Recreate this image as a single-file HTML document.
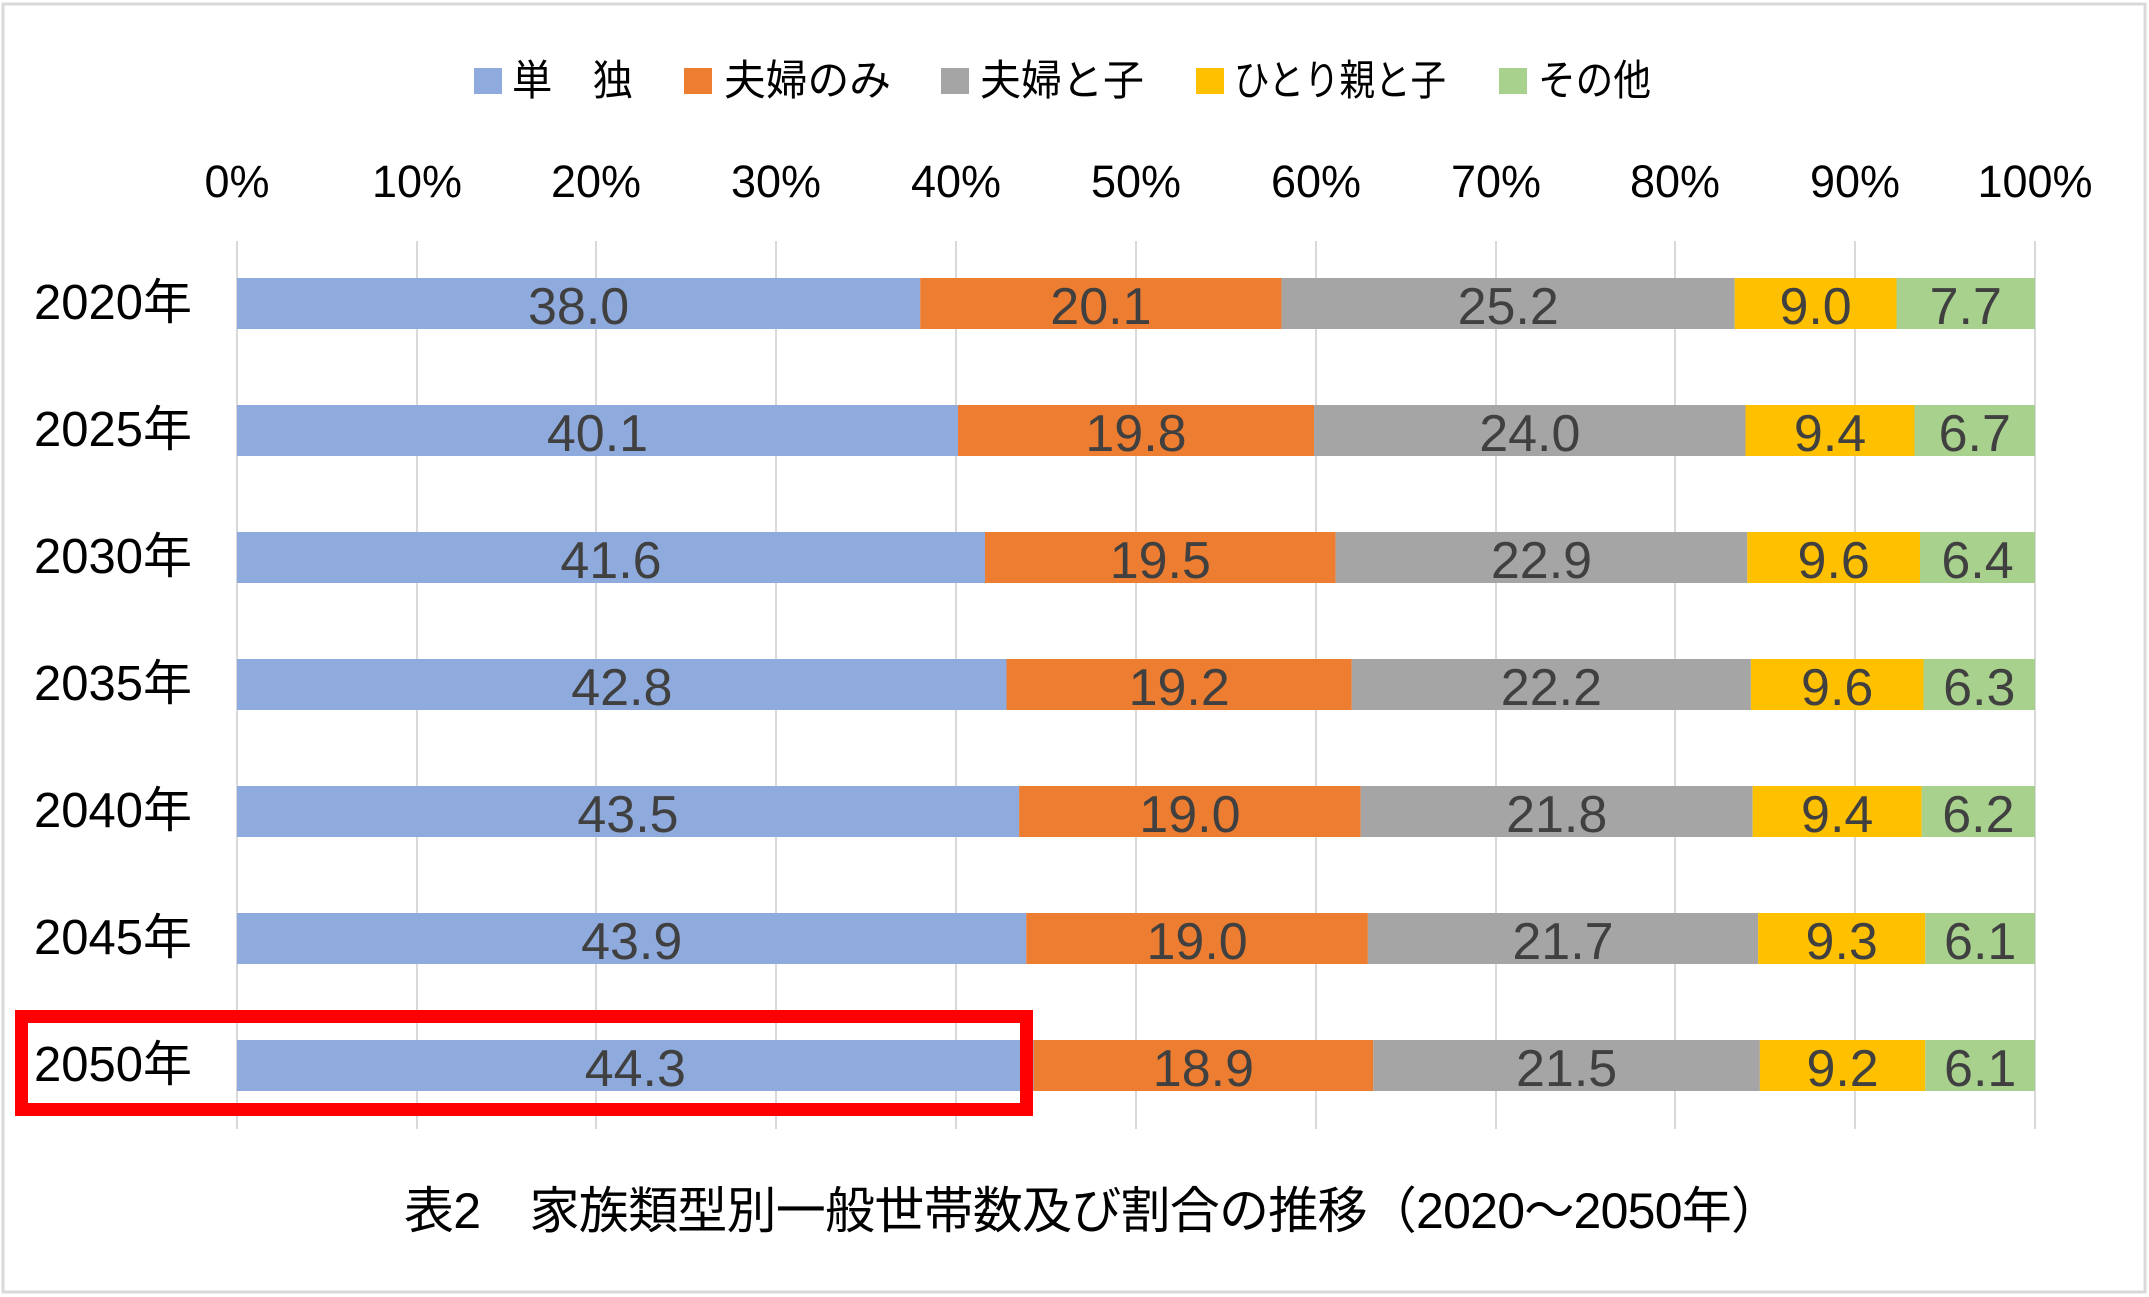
<!DOCTYPE html>
<html><head><meta charset="utf-8"><style>
html,body{margin:0;padding:0;background:#fff;}
svg{display:block;}
text{font-family:"Liberation Sans","Noto Sans CJK JP",sans-serif;}
</style></head><body>
<svg width="2149" height="1297" viewBox="0 0 2149 1297" xmlns="http://www.w3.org/2000/svg">
<rect x="0" y="0" width="2149" height="1297" fill="#fff"/>
<rect x="3" y="4" width="2142" height="1288" fill="none" stroke="#d9d9d9" stroke-width="3"/>
<g font-size="42" fill="#000">
<rect x="474" y="68" width="28" height="26" fill="#8FAADC"/><text x="512" y="95" textLength="121" lengthAdjust="spacingAndGlyphs">単　独</text>
<rect x="684" y="68" width="28" height="26" fill="#ED7D31"/><text x="724" y="95" textLength="167" lengthAdjust="spacingAndGlyphs">夫婦のみ</text>
<rect x="941" y="68" width="28" height="26" fill="#A5A5A5"/><text x="980" y="95" textLength="164" lengthAdjust="spacingAndGlyphs">夫婦と子</text>
<rect x="1196" y="68" width="28" height="26" fill="#FFC000"/><text x="1234" y="95" textLength="212" lengthAdjust="spacingAndGlyphs">ひとり親と子</text>
<rect x="1499" y="68" width="28" height="26" fill="#A9D18E"/><text x="1538" y="95" textLength="113" lengthAdjust="spacingAndGlyphs">その他</text>
</g>
<g font-size="45" fill="#000" text-anchor="middle">
<text x="237" y="197">0%</text><text x="417" y="197">10%</text><text x="596" y="197">20%</text><text x="776" y="197">30%</text><text x="956" y="197">40%</text><text x="1136" y="197">50%</text><text x="1316" y="197">60%</text><text x="1496" y="197">70%</text><text x="1675" y="197">80%</text><text x="1855" y="197">90%</text><text x="2035" y="197">100%</text>
</g>
<g stroke="#d9d9d9" stroke-width="2">
<line x1="237" y1="241" x2="237" y2="1129"/><line x1="417" y1="241" x2="417" y2="1129"/><line x1="596" y1="241" x2="596" y2="1129"/><line x1="776" y1="241" x2="776" y2="1129"/><line x1="956" y1="241" x2="956" y2="1129"/><line x1="1136" y1="241" x2="1136" y2="1129"/><line x1="1316" y1="241" x2="1316" y2="1129"/><line x1="1496" y1="241" x2="1496" y2="1129"/><line x1="1675" y1="241" x2="1675" y2="1129"/><line x1="1855" y1="241" x2="1855" y2="1129"/><line x1="2035" y1="241" x2="2035" y2="1129"/>
</g>
<g>
<rect x="237" y="278" width="683.2" height="51" fill="#8FAADC"/><rect x="920.2" y="278" width="361.4" height="51" fill="#ED7D31"/><rect x="1281.6" y="278" width="453.1" height="51" fill="#A5A5A5"/><rect x="1734.7" y="278" width="161.8" height="51" fill="#FFC000"/><rect x="1896.5" y="278" width="138.5" height="51" fill="#A9D18E"/>
<rect x="237" y="405" width="721" height="51" fill="#8FAADC"/><rect x="958" y="405" width="356" height="51" fill="#ED7D31"/><rect x="1314" y="405" width="431.5" height="51" fill="#A5A5A5"/><rect x="1745.5" y="405" width="169" height="51" fill="#FFC000"/><rect x="1914.5" y="405" width="120.5" height="51" fill="#A9D18E"/>
<rect x="237" y="532" width="748" height="51" fill="#8FAADC"/><rect x="985" y="532" width="350.6" height="51" fill="#ED7D31"/><rect x="1335.6" y="532" width="411.7" height="51" fill="#A5A5A5"/><rect x="1747.3" y="532" width="172.7" height="51" fill="#FFC000"/><rect x="1920" y="532" width="115" height="51" fill="#A9D18E"/>
<rect x="237" y="659" width="769.5" height="51" fill="#8FAADC"/><rect x="1006.5" y="659" width="345.3" height="51" fill="#ED7D31"/><rect x="1351.8" y="659" width="399.1" height="51" fill="#A5A5A5"/><rect x="1750.9" y="659" width="172.6" height="51" fill="#FFC000"/><rect x="1923.5" y="659" width="111.5" height="51" fill="#A9D18E"/>
<rect x="237" y="786" width="782.1" height="51" fill="#8FAADC"/><rect x="1019.1" y="786" width="341.6" height="51" fill="#ED7D31"/><rect x="1360.7" y="786" width="392" height="51" fill="#A5A5A5"/><rect x="1752.7" y="786" width="169" height="51" fill="#FFC000"/><rect x="1921.7" y="786" width="113.3" height="51" fill="#A9D18E"/>
<rect x="237" y="913" width="789.3" height="51" fill="#8FAADC"/><rect x="1026.3" y="913" width="341.6" height="51" fill="#ED7D31"/><rect x="1367.9" y="913" width="390.2" height="51" fill="#A5A5A5"/><rect x="1758.1" y="913" width="167.2" height="51" fill="#FFC000"/><rect x="1925.3" y="913" width="109.7" height="51" fill="#A9D18E"/>
<rect x="237" y="1040" width="796.5" height="51" fill="#8FAADC"/><rect x="1033.5" y="1040" width="339.8" height="51" fill="#ED7D31"/><rect x="1373.3" y="1040" width="386.6" height="51" fill="#A5A5A5"/><rect x="1759.9" y="1040" width="165.4" height="51" fill="#FFC000"/><rect x="1925.3" y="1040" width="109.7" height="51" fill="#A9D18E"/>
</g>
<g font-size="52" fill="#404040" text-anchor="middle">
<text x="578.6" y="324">38.0</text><text x="1100.9" y="324">20.1</text><text x="1508.2" y="324">25.2</text><text x="1815.6" y="324">9.0</text><text x="1965.8" y="324">7.7</text>
<text x="597.5" y="451">40.1</text><text x="1136" y="451">19.8</text><text x="1529.8" y="451">24.0</text><text x="1830" y="451">9.4</text><text x="1974.8" y="451">6.7</text>
<text x="611" y="578">41.6</text><text x="1160.3" y="578">19.5</text><text x="1541.5" y="578">22.9</text><text x="1833.7" y="578">9.6</text><text x="1977.5" y="578">6.4</text>
<text x="621.8" y="705">42.8</text><text x="1179.2" y="705">19.2</text><text x="1551.4" y="705">22.2</text><text x="1837.2" y="705">9.6</text><text x="1979.3" y="705">6.3</text>
<text x="628" y="832">43.5</text><text x="1189.9" y="832">19.0</text><text x="1556.7" y="832">21.8</text><text x="1837.2" y="832">9.4</text><text x="1978.4" y="832">6.2</text>
<text x="631.7" y="959">43.9</text><text x="1197.1" y="959">19.0</text><text x="1563" y="959">21.7</text><text x="1841.7" y="959">9.3</text><text x="1980.2" y="959">6.1</text>
<text x="635.3" y="1086">44.3</text><text x="1203.4" y="1086">18.9</text><text x="1566.6" y="1086">21.5</text><text x="1842.6" y="1086">9.2</text><text x="1980.2" y="1086">6.1</text>
</g>
<g font-size="49" fill="#000">
<text x="34" y="319">2020年</text><text x="34" y="446">2025年</text><text x="34" y="573">2030年</text><text x="34" y="700">2035年</text><text x="34" y="827">2040年</text><text x="34" y="954">2045年</text><text x="34" y="1081">2050年</text>
</g>
<rect x="21.5" y="1016.5" width="1005" height="93" fill="none" stroke="#ff0000" stroke-width="13"/>
<text x="404" y="1228" font-size="50" fill="#000" textLength="1377">表2　家族類型別一般世帯数及び割合の推移（2020～2050年）</text>
</svg>
</body></html>
